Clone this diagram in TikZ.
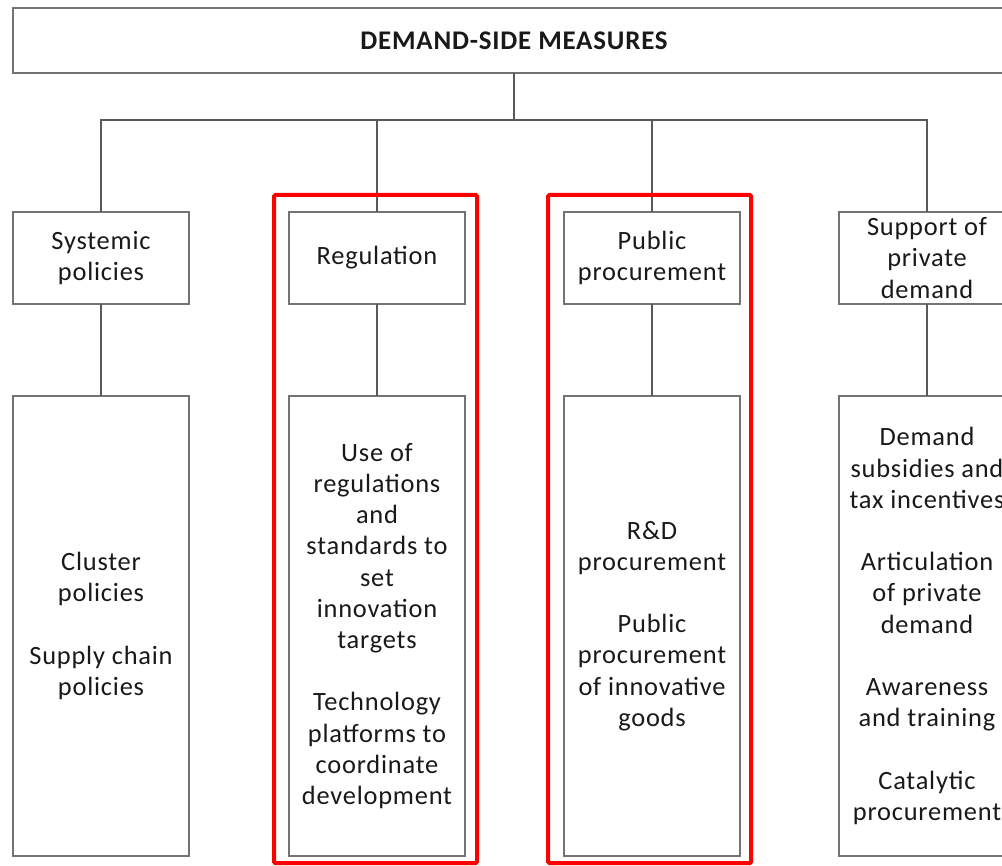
\documentclass[tikz,border=0pt]{standalone}
\usepackage{fontspec}
\setmainfont[LetterSpace=3]{Carlito}
\colorlet{boxcolor}{black!55}
\colorlet{linecolor}{black!65}
\colorlet{textcolor}{black!90}
\colorlet{framecolor}{red}
\tikzset{boxbase/.style 2 args={shape=rectangle, inner sep=0pt, outer sep=0pt, draw=boxcolor, line width=1.1pt, fill=white, text=textcolor, align=center, minimum width=#1*0.75pt, minimum height=#2*0.75pt, font=\fontsize{19.8}{23.4}\selectfont},%
    headbox/.style={boxbase={1002}{65}, font=\bfseries\fontsize{20.2}{20}\selectfont},%
    catbox/.style={boxbase={176}{92}},%
    itembox/.style={boxbase={176}{460}},%
    redframe/.style={shape=rectangle, inner sep=0pt, outer sep=0pt, draw=framecolor, line width=3pt, rounded corners=1pt, minimum width=203*0.75pt, minimum height=668*0.75pt},%
    conn/.style={-, line width=0.8pt, color=linecolor}%
}

\begin{document}
\begin{tikzpicture}[x=0.75pt, y=-0.75pt]
            \clip (0,0) rectangle (1002,866);
            \begin{scope} %draw boxes
                \node[headbox] (top) at (514,40.5) {DEMAND-SIDE MEASURES};
                \node[catbox] (sys) at (101,258) {Systemic\\policies};
                \node[catbox] (reg) at (377,258) {Regulation};
                \node[catbox] (pub) at (652,258) {Public\\procurement};
                \node[catbox] (priv) at (927,258) {Support of\\private\\demand};
                \node[itembox] (sysitems) at (101,626) {Cluster\\policies\\[23.4pt]Supply chain\\policies};
                \node[itembox] (regitems) at (377,626) {Use of\\regulations\\and\\standards to\\set\\innovation\\targets\\[23.4pt]Technology\\platforms to\\coordinate\\development};
                \node[itembox] (pubitems) at (652,626) {R\&D\\procurement\\[23.4pt]Public\\procurement\\of innovative\\goods};
                \node[itembox] (privitems) at (927,626) {Demand\\subsidies and\\tax incentives\\[23.4pt]Articulation\\of private\\demand\\[23.4pt]Awareness\\and training\\[23.4pt]Catalytic\\procurement};
                \coordinate (hub) at (514,120);
            \end{scope}
            \begin{scope} %draw connections
                \draw[conn] (top.south) -- (hub);
                \foreach \nodename in {sys, reg, pub, priv}
                    \draw[conn] (hub) -| (\nodename.north);
                \foreach \nodename in {sys, reg, pub, priv}
                    \draw[conn] (\nodename.south) -- (\nodename items.north);
            \end{scope}
            \begin{scope} %highlight frames
                \node[redframe] (regframe) at (375.5,529) {};
                \node[redframe] (pubframe) at (649.5,529) {};
            \end{scope}
        \end{tikzpicture}
\end{document}
